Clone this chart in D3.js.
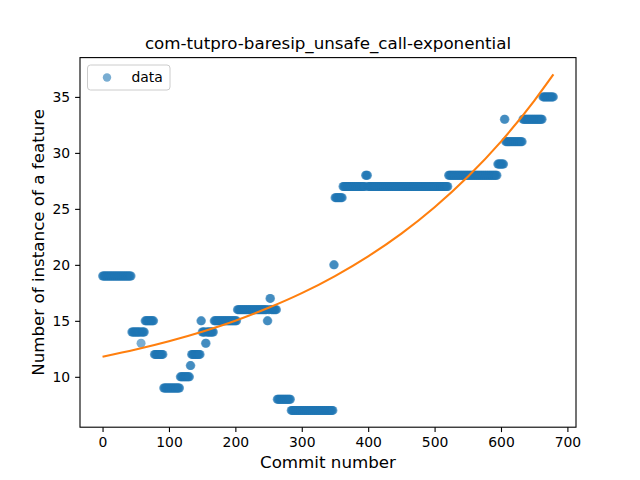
<!DOCTYPE html>
<html>
<head>
<meta charset="utf-8">
<script src="https://cdn.jsdelivr.net/npm/d3@7"></script>
<style>
  body { margin: 0; background: #fff; }
  svg { display: block; font-family: "DejaVu Sans", sans-serif; }
</style>
</head>
<body>
<div id="chart"></div>
<script>
// scatter: runs of constant value (commit start, commit end, value)
const runStart = [0, 44, 58, 59, 64, 78, 92, 117, 132, 134, 148, 150, 155, 157, 168, 203, 248, 250, 252, 254, 263, 284, 348, 350, 362, 396, 400, 521, 595, 605, 607, 633, 663];
const runEnd   = [43, 57, 58, 63, 77, 91, 116, 131, 133, 147, 149, 154, 156, 167, 202, 247, 249, 251, 253, 262, 283, 347, 349, 361, 395, 399, 520, 594, 604, 606, 632, 662, 679];
const runValue = [19, 14, 13, 14, 15, 12, 9, 10, 11, 12, 15, 14, 13, 14, 15, 16, 15, 16, 17, 16, 8, 7, 20, 26, 27, 28, 27, 28, 29, 33, 31, 33, 35];

// exponential fit line, sampled
const fitX = [0, 50, 100, 150, 200, 250, 300, 350, 400, 450, 500, 550, 600, 650, 679];
const fitY = [11.80, 12.44, 13.18, 14.03, 15.01, 16.16, 17.47, 19.00, 20.76, 22.79, 25.15, 27.87, 31.01, 34.65, 37.01];

const xTicks = [0, 100, 200, 300, 400, 500, 600, 700];
const yTicks = [10, 15, 20, 25, 30, 35];

const chartTitle = 'com-tutpro-baresip_unsafe_call-exponential';
const xLabel = 'Commit number';
const yLabel = 'Number of instance of a feature';

const points = [];
runStart.forEach((s, i) => {
    for (let c = s; c <= runEnd[i]; c++) points.push({ x: c, y: runValue[i] });
});
const fit = fitX.map((x, i) => ({ x, y: fitY[i] }));

const width = 640, height = 480;
const margin = { top: 57.6, right: 64, bottom: 52.8, left: 80 };
const iw = width - margin.left - margin.right;
const ih = height - margin.top - margin.bottom;

function padded(ext) {
    const d = (ext[1] - ext[0]) * 0.05;
    return [ext[0] - d, ext[1] + d];
}
const allX = points.map((d) => d.x).concat(fitX);
const allY = points.map((d) => d.y).concat(fitY);

const x = d3.scaleLinear().domain(padded(d3.extent(allX))).range([0, iw]);
const y = d3.scaleLinear().domain(padded(d3.extent(allY))).range([ih, 0]);

const svg = d3.select('#chart').append('svg')
    .attr('width', width)
    .attr('height', height);

const g = svg.append('g').attr('transform', `translate(${margin.left},${margin.top})`);

g.append('g').selectAll('circle').data(points).enter().append('circle')
    .attr('cx', (d) => x(d.x))
    .attr('cy', (d) => y(d.y))
    .attr('r', 4.5)
    .attr('fill', '#1f77b4')
    .attr('fill-opacity', 0.6);

g.append('path')
    .datum(fit)
    .attr('fill', 'none')
    .attr('stroke', '#ff7f0e')
    .attr('stroke-width', 2.1)
    .attr('d', d3.line().x((d) => x(d.x)).y((d) => y(d.y)).curve(d3.curveMonotoneX));

// axes
const xAxis = g.append('g')
    .attr('transform', `translate(0,${ih})`)
    .call(d3.axisBottom(x).tickValues(xTicks).tickSize(4.9).tickPadding(4.9).tickFormat(d3.format('d')));
const yAxis = g.append('g')
    .call(d3.axisLeft(y).tickValues(yTicks).tickSize(4.9).tickPadding(4.9).tickFormat(d3.format('d')));
[xAxis, yAxis].forEach((ax) => {
    ax.select('.domain').remove();
    ax.selectAll('line').attr('stroke', '#000').attr('stroke-width', 1.1);
    ax.selectAll('text').attr('font-size', '13.9px').attr('fill', '#000')
        .attr('font-family', '"DejaVu Sans", sans-serif');
});

g.append('rect')
    .attr('width', iw)
    .attr('height', ih)
    .attr('fill', 'none')
    .attr('stroke', '#000')
    .attr('stroke-width', 1.1);

// title and labels
svg.append('text')
    .attr('x', margin.left + iw / 2)
    .attr('y', 49)
    .attr('text-anchor', 'middle')
    .attr('font-size', '16.7px')
    .text(chartTitle);
svg.append('text')
    .attr('x', margin.left + iw / 2)
    .attr('y', 468)
    .attr('text-anchor', 'middle')
    .attr('font-size', '16.7px')
    .text(xLabel);
svg.append('text')
    .attr('transform', `translate(44,${margin.top + ih / 2}) rotate(-90)`)
    .attr('text-anchor', 'middle')
    .attr('font-size', '16.7px')
    .text(yLabel);

// legend
const lg = svg.append('g').attr('transform', 'translate(87.5,65)');
lg.append('rect')
    .attr('width', 82.5)
    .attr('height', 25)
    .attr('rx', 3)
    .attr('fill', '#fff')
    .attr('fill-opacity', 0.8)
    .attr('stroke', '#ccc')
    .attr('stroke-width', 1);
lg.append('circle')
    .attr('cx', 19.5)
    .attr('cy', 12.5)
    .attr('r', 4.2)
    .attr('fill', '#1f77b4')
    .attr('fill-opacity', 0.6);
lg.append('text')
    .attr('x', 44)
    .attr('y', 17.3)
    .attr('font-size', '13.9px')
    .text('data');
</script>
</body>
</html>
